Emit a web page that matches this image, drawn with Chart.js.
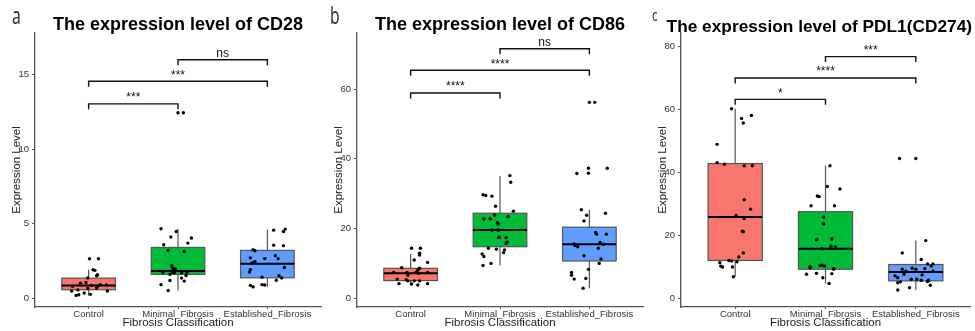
<!DOCTYPE html>
<html>
<head>
<meta charset="utf-8">
<script src="https://cdn.jsdelivr.net/npm/chart.js@4.4.1/dist/chart.umd.min.js"></script>
<style>
    body { margin: 0; background: #fff; width: 975px; height: 331px; overflow: hidden; }
    .panel { position: absolute; top: 0; height: 331px; }
</style>
</head>
<body>
<div class="panel" style="left:0;width:325px"><canvas id="cd28"></canvas></div>
<div class="panel" style="left:322px;width:325px"><canvas id="cd86"></canvas></div>
<div class="panel" style="left:646px;width:329px"><canvas id="pdl1"></canvas></div>
<script>
const groups = ['Control', 'Minimal_Fibrosis', 'Established_Fibrosis'];
const groupColors = ['#F8766D', '#00BA38', '#619CFF'];
const sigPairs = [[0, 1], [0, 2], [1, 2]];

// CD28
const cd28Ticks = [0, 5, 10, 15];
const cd28Lower = [0.18, 0.51, 0.74];
const cd28Q1 = [0.56, 1.59, 1.36];
const cd28Median = [0.85, 1.81, 2.3];
const cd28Q3 = [1.34, 3.4, 3.2];
const cd28Upper = [1.92, 4.65, 4.6];
const cd28Values = [
    [2.64, 2.64, 1.9, 1.86, 1.57, 1.5, 1.35, 1.05, 1.0, 0.85, 0.8, 0.8, 0.9, 0.88, 0.55, 0.65, 0.67, 0.47, 0.47, 0.34, 0.18, 0.22, 0.25],
    [4.65, 4.47, 4.1, 4.03, 3.69, 3.58, 3.2, 3.13, 2.19, 2.0, 1.95, 1.74, 1.74, 1.7, 1.7, 1.72, 1.59, 1.52, 1.34, 1.14, 1.18, 0.9, 0.51, 12.44, 12.44],
    [4.56, 4.63, 4.47, 3.55, 3.52, 3.25, 3.18, 2.85, 2.7, 2.65, 2.65, 2.45, 2.35, 2.05, 1.9, 1.75, 1.5, 1.4, 1.35, 1.2, 0.9, 0.88, 0.85, 0.75]
];
const cd28Jitter = [
    [0.01, 0.11, 0.05, 0.07, 0.10, 0.09, -0.01, -0.03, -0.09, 0.03, -0.18, 0.10, 0.13, 0.20, -0.12, -0.01, 0.09, -0.19, 0.21, -0.05, -0.14, -0.11, 0.02],
    [-0.19, -0.02, -0.08, 0.15, 0.11, -0.16, -0.11, 0.07, -0.07, -0.06, -0.03, -0.17, -0.06, -0.04, 0.04, 0.10, -0.09, 0.09, 0.04, 0.07, -0.09, -0.19, -0.11, 0.0, 0.06],
    [0.07, 0.20, 0.18, 0.07, 0.18, -0.16, -0.14, 0.09, -0.19, -0.03, 0.12, -0.14, -0.17, 0.19, -0.19, -0.20, 0.13, -0.06, 0.16, 0.10, -0.06, -0.03, -0.19, -0.16]
];
const cd28Sig = ['***', '***', 'ns'];
const cd28SigY = [13.04, 14.56, 16.0];

// CD86
const cd86Ticks = [0, 20, 40, 60];
const cd86Lower = [4.3, 9.4, 2.9];
const cd86Q1 = [5.07, 14.8, 10.7];
const cd86Median = [7.2, 19.6, 15.5];
const cd86Q3 = [8.6, 24.4, 20.4];
const cd86Upper = [12.7, 35.1, 25.4];
const cd86Values = [
    [14.35, 14.35, 12.9, 12.4, 11.0, 10.3, 8.8, 8.6, 8.1, 7.4, 7.4, 7.4, 7.4, 6.6, 7.2, 5.5, 5.3, 5.0, 5.0, 5.0, 4.2, 4.1, 3.8, 4.2],
    [35.2, 33.3, 29.7, 29.5, 29.3, 26.4, 25.0, 23.9, 23.4, 22.8, 22.8, 21.7, 21.3, 19.6, 19.6, 17.5, 17.4, 16.1, 15.8, 14.35, 14.1, 13.9, 12.7, 13.1, 12.0, 10.0, 9.4],
    [56.2, 56.2, 37.3, 37.3, 35.9, 35.8, 25.4, 24.4, 23.8, 22.2, 18.9, 18.4, 18.4, 15.6, 15.1, 14.8, 16.0, 15.5, 14.35, 12.2, 11.3, 10.0, 7.4, 6.6, 5.5, 5.7, 8.3, 2.9]
];
const cd86Jitter = [
    [0.01, 0.11, 0.10, 0.10, 0.04, 0.19, -0.10, 0.10, 0.08, -0.19, -0.04, 0.06, 0.19, -0.03, 0.09, -0.15, -0.05, 0.04, 0.10, -0.03, -0.13, 0.01, 0.08, 0.19],
    [0.11, 0.12, -0.19, -0.16, -0.09, -0.05, 0.15, -0.06, 0.09, -0.18, -0.11, -0.03, -0.02, -0.09, -0.02, -0.01, 0.07, 0.08, 0.07, -0.13, -0.04, 0.05, -0.20, 0.04, -0.18, -0.10, -0.19],
    [0.00, 0.06, -0.01, 0.20, -0.01, -0.14, -0.09, 0.18, -0.03, -0.06, 0.07, 0.19, 0.08, -0.17, -0.16, -0.13, 0.12, 0.16, 0.10, -0.06, 0.13, 0.11, -0.20, -0.20, -0.17, -0.04, -0.01, -0.07]
];
const cd86Sig = ['****', '****', 'ns'];
const cd86SigY = [58.9, 65.4, 71.6];

// PDL1 (CD274)
const pdl1Ticks = [0, 20, 40, 60, 80];
const pdl1Lower = [6.8, 4.7, 2.6];
const pdl1Q1 = [12.0, 9.2, 5.5];
const pdl1Median = [25.8, 15.7, 8.3];
const pdl1Q3 = [42.8, 27.5, 10.7];
const pdl1Upper = [60.2, 42.1, 18.3];
const pdl1Values = [
    [60.2, 57.1, 55.7, 58.1, 48.9, 43.1, 42.6, 42.1, 42.1, 31.3, 28.3, 26.3, 25.3, 21.3, 21.1, 14.4, 13.1, 12.0, 11.8, 11.6, 11.3, 10.2, 9.9, 9.9, 6.8],
    [42.1, 35.5, 34.7, 32.5, 32.3, 29.4, 29.4, 25.8, 23.6, 18.6, 18.8, 16.5, 16.3, 15.7, 10.0, 10.4, 10.5, 10.2, 9.7, 9.4, 9.2, 7.6, 7.9, 7.8, 6.5, 4.7],
    [44.4, 44.4, 18.3, 14.4, 12.3, 10.9, 10.9, 10.2, 9.4, 9.5, 9.2, 8.6, 9.2, 8.6, 7.6, 7.4, 7.1, 6.5, 6.0, 6.0, 5.7, 5.7, 5.3, 4.9, 5.2, 3.3, 4.1, 2.6]
];
const pdl1Jitter = [
    [-0.04, 0.07, 0.09, 0.18, -0.20, -0.20, -0.12, 0.10, 0.19, 0.10, 0.17, 0.01, 0.10, 0.08, 0.09, 0.09, 0.04, -0.07, -0.04, 0.02, -0.17, -0.16, -0.14, -0.03, -0.02],
    [0.05, 0.02, 0.16, -0.09, -0.07, -0.16, 0.10, -0.02, -0.02, -0.10, 0.07, 0.06, 0.11, -0.04, -0.17, -0.06, -0.04, -0.01, -0.17, 0.09, 0.09, -0.21, -0.10, 0.07, -0.03, 0.04],
    [-0.18, 0.00, 0.11, -0.15, 0.06, 0.13, 0.19, 0.17, 0.10, -0.04, -0.15, -0.11, 0.00, 0.19, -0.13, 0.07, -0.23, -0.20, -0.05, 0.01, 0.06, 0.14, 0.13, -0.20, -0.17, -0.07, 0.16, -0.20]
];
const pdl1Sig = ['*', '****', '***'];
const pdl1SigY = [63.2, 70.0, 76.8];

const FONT = '"Liberation Sans", Arial, sans-serif';
const BOX_WIDTH = 0.6;
const LINE_GREY = '#555';

Chart.defaults.font.family = FONT;

function makeBoxPlugin(panel) {
    return {
        id: 'boxes',
        beforeDatasetsDraw(chart) {
            const { ctx, scales: { x, y } } = chart;
            ctx.save();
            panel.q1.forEach((q1, i) => {
                const cx = x.getPixelForValue(i + 1);
                const half = x.getPixelForValue(i + 1 + BOX_WIDTH / 2) - cx;
                const top = y.getPixelForValue(panel.q3[i]);
                const bottom = y.getPixelForValue(q1);
                ctx.strokeStyle = LINE_GREY;
                ctx.lineWidth = 1.2;
                ctx.beginPath();
                ctx.moveTo(cx, y.getPixelForValue(panel.upper[i]));
                ctx.lineTo(cx, top);
                ctx.moveTo(cx, bottom);
                ctx.lineTo(cx, y.getPixelForValue(panel.lower[i]));
                ctx.stroke();
                ctx.fillStyle = groupColors[i];
                ctx.fillRect(cx - half, top, half * 2, bottom - top);
                ctx.strokeRect(cx - half, top, half * 2, bottom - top);
                const med = y.getPixelForValue(panel.median[i]);
                ctx.strokeStyle = '#000';
                ctx.lineWidth = 2;
                ctx.beginPath();
                ctx.moveTo(cx - half, med);
                ctx.lineTo(cx + half, med);
                ctx.stroke();
            });
            ctx.restore();
        },
        afterDatasetsDraw(chart) {
            const { ctx, scales: { x, y } } = chart;
            const tip = (y.max - y.min) * 0.02;
            ctx.save();
            ctx.strokeStyle = '#111';
            ctx.lineWidth = 1.4;
            ctx.fillStyle = '#111';
            ctx.font = '12px ' + FONT;
            ctx.textAlign = 'center';
            ctx.textBaseline = 'alphabetic';
            sigPairs.forEach(([a, b], k) => {
                const x1 = x.getPixelForValue(a + 1);
                const x2 = x.getPixelForValue(b + 1);
                const yy = y.getPixelForValue(panel.sigY[k]);
                const yt = y.getPixelForValue(panel.sigY[k] - tip);
                ctx.beginPath();
                ctx.moveTo(x1, yt);
                ctx.lineTo(x1, yy);
                ctx.lineTo(x2, yy);
                ctx.lineTo(x2, yt);
                ctx.stroke();
                ctx.fillText(panel.sig[k], (x1 + x2) / 2, yy - 2.5);
            });
            ctx.restore();
        },
        afterDraw(chart) {
            const { ctx, chartArea, width } = chart;
            ctx.save();
            ctx.font = 'bold ' + panel.titleSize + 'px ' + FONT;
            ctx.fillStyle = '#000';
            ctx.textAlign = 'center';
            ctx.textBaseline = 'alphabetic';
            const w = ctx.measureText(panel.title).width;
            const cx = Math.min((chartArea.left + chartArea.right) / 2, width - w / 2 - 3);
            ctx.fillText(panel.title, cx, panel.titleY);
            ctx.translate(panel.letterX, panel.letterY);
            ctx.scale(0.68, 1);
            ctx.font = panel.letterSize + 'px "Noto Sans", sans-serif';
            ctx.fillStyle = '#333';
            ctx.textAlign = 'left';
            ctx.fillText(panel.letter, 0, 0);
            ctx.restore();
        }
    };
}

function buildPanel(id, panel) {
    const ctx = document.getElementById(id);
    const points = groups.flatMap((g, i) =>
        panel.values[i].map((v, k) => ({ x: i + 1 + panel.jitter[i][k], y: v })));

    new Chart(ctx, {
        type: 'scatter',
        data: {
            datasets: [{
                data: points,
                pointRadius: 1.7,
                pointBackgroundColor: '#000',
                pointBorderWidth: 0
            }]
        },
        options: {
            responsive: true,
            maintainAspectRatio: false,
            animation: false,
            events: [],
            layout: { padding: { top: 33, right: panel.padRight, left: 0, bottom: 0 } },
            plugins: { legend: { display: false }, tooltip: { enabled: false } },
            scales: {
                x: {
                    type: 'linear',
                    min: 0.4,
                    max: 3.6,
                    afterBuildTicks: (s) => { s.ticks = groups.map((g, i) => ({ value: i + 1 })); },
                    afterFit: (s) => { s.height = 24; },
                    ticks: {
                        callback: (v) => groups[v - 1],
                        font: { size: 9.5 },
                        color: '#333',
                        padding: 0,
                        maxRotation: 0,
                        autoSkip: false
                    },
                    grid: { drawOnChartArea: false, tickLength: 2, color: LINE_GREY },
                    border: { color: LINE_GREY, width: 1.3 },
                    title: {
                        display: true,
                        text: 'Fibrosis Classification',
                        font: { size: 11.5 },
                        color: '#222',
                        padding: { top: 0, bottom: 1 }
                    }
                },
                y: {
                    min: panel.yMin,
                    max: panel.yMax,
                    afterBuildTicks: (s) => { s.ticks = panel.ticks.map((v) => ({ value: v })); },
                    afterFit: (s) => { s.width = 35; },
                    ticks: { font: { size: 9.5 }, color: '#333', padding: 3 },
                    grid: { drawOnChartArea: false, tickLength: 3, color: LINE_GREY },
                    border: { color: LINE_GREY, width: 1.3 },
                    title: {
                        display: true,
                        text: 'Expression Level',
                        font: { size: 11.5 },
                        color: '#222',
                        padding: { top: 10, bottom: 0 }
                    }
                }
            }
        },
        plugins: [makeBoxPlugin(panel)]
    });
}

buildPanel('cd28', {
    title: 'The expression level of CD28', titleSize: 18, titleY: 29.5,
    letter: 'a', letterX: 12, letterY: 24, letterSize: 23, padRight: 2,
    yMin: -0.6, yMax: 17.8, ticks: cd28Ticks,
    lower: cd28Lower, q1: cd28Q1, median: cd28Median, q3: cd28Q3, upper: cd28Upper,
    values: cd28Values, jitter: cd28Jitter, sig: cd28Sig, sigY: cd28SigY
});

buildPanel('cd86', {
    title: 'The expression level of CD86', titleSize: 18, titleY: 29.5,
    letter: 'b', letterX: 8, letterY: 24, letterSize: 23, padRight: 2,
    yMin: -2.5, yMax: 76.1, ticks: cd86Ticks,
    lower: cd86Lower, q1: cd86Q1, median: cd86Median, q3: cd86Q3, upper: cd86Upper,
    values: cd86Values, jitter: cd86Jitter, sig: cd86Sig, sigY: cd86SigY
});

buildPanel('pdl1', {
    title: 'The expression level of PDL1(CD274)', titleSize: 17.3, titleY: 31.5,
    letter: 'c', letterX: 6, letterY: 21, letterSize: 17, padRight: 5,
    yMin: -2.8, yMax: 84.3, ticks: pdl1Ticks,
    lower: pdl1Lower, q1: pdl1Q1, median: pdl1Median, q3: pdl1Q3, upper: pdl1Upper,
    values: pdl1Values, jitter: pdl1Jitter, sig: pdl1Sig, sigY: pdl1SigY
});
</script>
</body>
</html>
